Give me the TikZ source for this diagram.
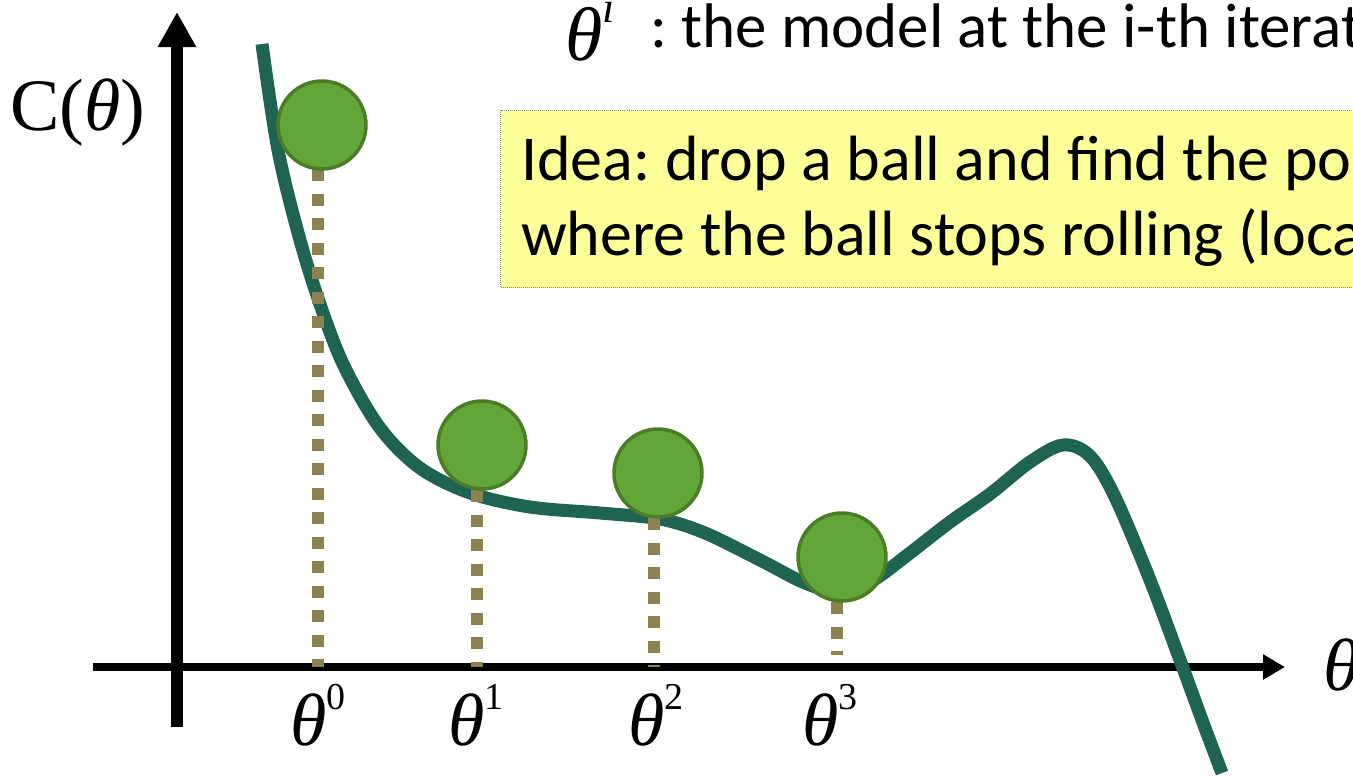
\documentclass[tikz,border=0pt]{standalone}
\usepackage{fontspec}
\setmainfont{Carlito}
\newfontfamily\tms{Liberation Serif}
\usetikzlibrary{arrows.meta}
\frenchspacing
\definecolor{curvegreen}{RGB}{31,99,82}
\definecolor{ballfill}{RGB}{98,165,57}
\definecolor{balledge}{RGB}{74,125,38}
\definecolor{dashcol}{RGB}{139,130,80}
\definecolor{notebg}{RGB}{255,255,153}
\tikzset{
  axisline/.style={line width=#1, black},
  ball/.style={circle, fill=ballfill, draw=balledge, line width=3.5pt, minimum size=88pt, inner sep=0pt},
  dropline/.style={dashcol, line width=12pt, dash pattern=on 12pt off 12.5pt},
  costcurve/.style={curvegreen, line width=13pt},
  thlabel/.style={font=\tms\fontsize{74}{76}\selectfont\itshape, inner sep=0pt, anchor=base},
  bodytext/.style={font=\fontsize{64}{66}\selectfont, inner sep=0pt, anchor=base west},
}
\newcommand{\thsup}[1]{θ\raisebox{0.48em}{\fontsize{38}{38}\selectfont\upshape #1}}
\begin{document}
\begin{tikzpicture}[x=1pt,y=-1pt]
\useasboundingbox (0,0) rectangle (1353,780);
\clip (0,0) rectangle (1353,780);
% note box
\node[draw=gray, fill=notebg, line width=1pt, dash pattern=on 1pt off 1pt, minimum width=900pt, minimum height=177pt, anchor=north west, inner sep=0pt] (note) at (500,110) {};
\node[bodytext] (idea1) at (521,180) {Idea: drop a ball and find the pos};
\node[bodytext] (idea2) at (521,255) {where the ball stops rolling (loca};
% top legend
\node[font=\tms\fontsize{76}{78}\selectfont\itshape, inner sep=0pt, anchor=base west] (thi) at (565,60) {θ\raisebox{0.5em}{\fontsize{44}{44}\selectfont i}};
\node[bodytext, font=\fontsize{63}{66}\selectfont] (legend) at (650,47) {: the model at the i-th iterat};
% axes
\coordinate (ybot) at (177,727);
\coordinate (ytop) at (177,12);
\coordinate (xleft) at (93,667);
\coordinate (xright) at (1285,667);
\draw[axisline=12pt, -{Triangle[length=35pt,width=36pt]}] (ybot) -- (ytop);
\draw[axisline=8pt, -{Triangle[length=22pt,width=24pt]}] (xleft) -- (xright);
\node[font=\tms\fontsize{74}{76}\selectfont, inner sep=0pt, anchor=base] (cl) at (78,130) {C(\textit{θ})};
\node[thlabel] (xl) at (1342,690) {θ};
% curve
\draw[costcurve] plot[smooth, tension=0.55] coordinates {
 (262,44) (278,150) (300,240) (322,310) (345,368) (380,428) (420,468) (470,493) (530,507) (600,513) (660,519) (705,533) (760,560) (805,583) (840,592) (872,581) (910,553) (950,522) (990,494) (1030,462) (1063,445) (1090,456) (1115,497) (1150,580) (1180,660) (1205,728) (1222,773)};
% drop line ends
\coordinate (d0) at (318,667);
\coordinate (d1) at (477,667);
\coordinate (d2) at (654,667);
\coordinate (d3) at (837,655);
\coordinate (s0) at (318,169);
\coordinate (s1) at (477,490);
\coordinate (s2) at (654,518);
\coordinate (s3) at (837,602);
\draw[dropline] (s0) -- (d0);
\draw[dropline] (s1) -- (d1);
\draw[dropline] (s2) -- (d2);
\draw[dropline] (s3) -- (d3);
% balls
\node[ball] (b0) at (322,125) {};
\node[ball] (b1) at (482,445) {};
\node[ball] (b2) at (658,473) {};
\node[ball] (b3) at (842,557) {};
% labels
\node[thlabel] (t0) at (318,745) {\thsup{0}};
\node[thlabel] (t1) at (476,745) {\thsup{1}};
\node[thlabel] (t2) at (656,745) {\thsup{2}};
\node[thlabel] (t3) at (830,745) {\thsup{3}};
\end{tikzpicture}
\end{document}
